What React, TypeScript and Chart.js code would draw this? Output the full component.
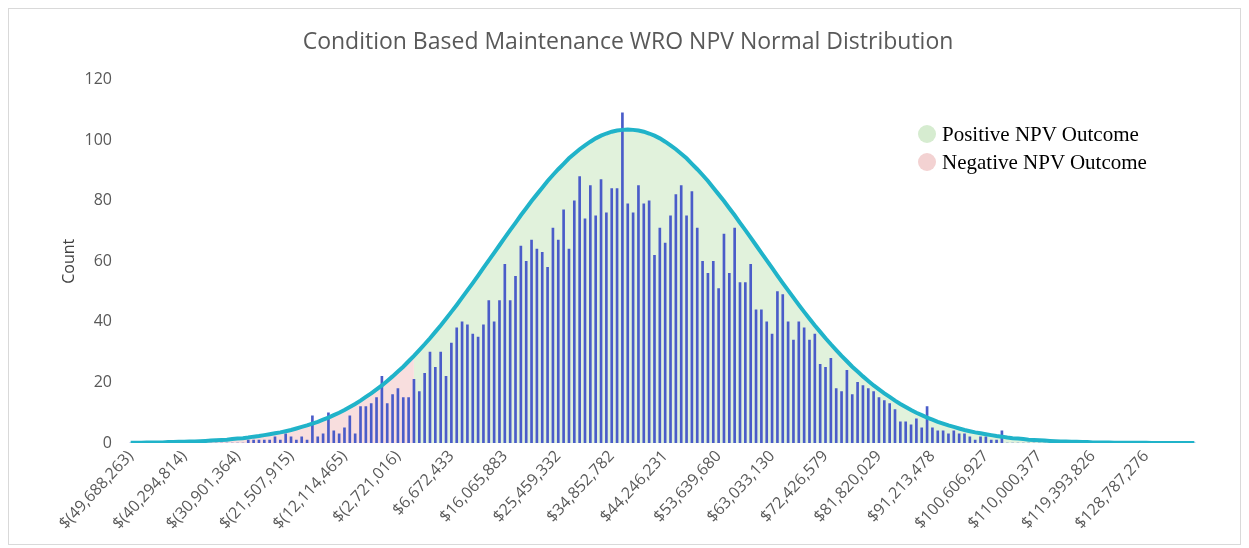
import React, { useEffect, useRef } from 'react';
import { Chart, registerables } from 'chart.js';

Chart.register(...registerables);

// Visible x-axis tick labels (one every 10 bins)
const tickLabels: string[] = [
  '$(49,688,263)', '$(40,294,814)', '$(30,901,364)', '$(21,507,915)', '$(12,114,465)',
  '$(2,721,016)', '$6,672,433', '$16,065,883', '$25,459,332', '$34,852,782',
  '$44,246,231', '$53,639,680', '$63,033,130', '$72,426,579', '$81,820,029',
  '$91,213,478', '$100,606,927', '$110,000,377', '$119,393,826', '$128,787,276',
];
const labelEvery = 10;
const firstPositiveBin = 53;

// Histogram counts per bin (200 bins)
const counts: number[] = [
  0, 0, 0, 0, 0, 0, 0, 0, 0, 0, 0, 0, 0, 0, 0, 0, 0, 0, 0, 0, 0, 0,
  1, 1, 1, 1, 1, 2, 1, 3, 2, 1, 2, 1,
  9, 2, 3, 10, 4, 3, 5, 9, 3, 12, 12, 13,
  15, 22, 13, 16, 18, 15, 15, 21, 17, 23, 30, 25, 30, 22,
  33, 38, 40, 39, 36, 35, 39, 47, 40, 47, 59, 47, 55, 65, 60, 67, 64, 63, 58, 71,
  67, 77, 64, 80, 88, 74, 85, 75, 87, 76, 84, 84, 109, 79, 76, 85, 79, 80, 62, 71,
  66, 75, 82, 85, 75, 83, 71, 60, 56, 60, 51, 69, 56, 71, 53, 53, 59, 44, 44, 40,
  36, 50, 49, 40, 34, 40, 38, 34, 36, 26, 25, 28, 18, 17, 24, 16, 20, 19, 18, 17,
  15, 14, 13, 11, 7, 7, 6, 8, 5, 12, 5, 4, 4, 3, 4, 3, 3, 2, 1, 2, 2, 1, 1, 4,
  0, 0, 0, 0, 0, 0, 0, 0, 0, 0, 0, 0, 0, 0, 0, 0, 0, 0, 0, 0, 0, 0, 0, 0, 0, 0, 0, 0, 0, 0, 0, 0, 0, 0, 0, 0,
];

// Fitted normal curve value per bin
const normalCurve: number[] = [
  0.1, 0.1, 0.1, 0.2, 0.2, 0.2, 0.2, 0.3, 0.3, 0.4,
  0.4, 0.5, 0.5, 0.6, 0.7, 0.8, 0.9, 1.0, 1.1, 1.3,
  1.5, 1.6, 1.8, 2.1, 2.3, 2.6, 2.9, 3.2, 3.5, 3.9,
  4.3, 4.8, 5.3, 5.8, 6.4, 7.0, 7.7, 8.4, 9.2, 10.0,
  10.9, 11.9, 12.9, 14.0, 15.2, 16.4, 17.7, 19.0, 20.5, 22.0,
  23.6, 25.2, 27.0, 28.8, 30.7, 32.6, 34.6, 36.7, 38.8, 41.0,
  43.3, 45.6, 48.0, 50.4, 52.8, 55.3, 57.8, 60.3, 62.8, 65.3,
  67.8, 70.3, 72.7, 75.2, 77.5, 79.9, 82.1, 84.3, 86.5, 88.5,
  90.4, 92.2, 94.0, 95.5, 97.0, 98.3, 99.5, 100.6, 101.5, 102.2,
  102.8, 103.2, 103.4, 103.5, 103.4, 103.2, 102.8, 102.2, 101.5, 100.6,
  99.5, 98.3, 97.0, 95.5, 94.0, 92.2, 90.4, 88.5, 86.5, 84.3,
  82.1, 79.9, 77.5, 75.2, 72.7, 70.3, 67.8, 65.3, 62.8, 60.3,
  57.8, 55.3, 52.8, 50.4, 48.0, 45.6, 43.3, 41.0, 38.8, 36.7,
  34.6, 32.6, 30.7, 28.8, 27.0, 25.2, 23.6, 22.0, 20.5, 19.0,
  17.7, 16.4, 15.2, 14.0, 12.9, 11.9, 10.9, 10.0, 9.2, 8.4,
  7.7, 7.0, 6.4, 5.8, 5.3, 4.8, 4.3, 3.9, 3.5, 3.2,
  2.9, 2.6, 2.3, 2.1, 1.8, 1.6, 1.5, 1.3, 1.1, 1.0,
  0.9, 0.8, 0.7, 0.6, 0.5, 0.5, 0.4, 0.4, 0.3, 0.3,
  0.2, 0.2, 0.2, 0.2, 0.1, 0.1, 0.1, 0.1, 0.1, 0.1,
  0.1, 0, 0, 0, 0, 0, 0, 0, 0, 0,
];

const yTicks = { min: 0, max: 120, step: 20 };
const legendLabels = ['Positive NPV Outcome', 'Negative NPV Outcome'];
const legendColors = ['#d6ecd0', '#f3d2d2'];

const categories: string[] = counts.map((_, i) =>
  i % labelEvery === 0 && tickLabels[i / labelEvery] ? tickLabels[i / labelEvery] : ''
);

export default function App() {
  const ref = useRef<HTMLCanvasElement>(null);

  useEffect(() => {
    if (!ref.current) return;
    Chart.defaults.font.family = "'Open Sans', sans-serif";
    const positive = normalCurve.map((v, i) => (i >= firstPositiveBin ? v : null));
    const negative = normalCurve.map((v, i) => (i <= firstPositiveBin ? v : null));
    const chart = new Chart(ref.current, {
      type: 'bar',
      data: {
        labels: categories,
        datasets: [
          {
            type: 'line',
            label: 'Normal',
            data: normalCurve,
            borderColor: '#20b3c9',
            borderWidth: 4,
            pointRadius: 0,
            fill: false,
            tension: 0,
            order: 0,
          } as any,
          {
            type: 'bar',
            label: 'Count',
            data: counts,
            backgroundColor: '#4a5cc9',
            borderWidth: 0,
            barThickness: 2,
            order: 1,
          },
          {
            type: 'line',
            label: legendLabels[0],
            data: positive,
            borderWidth: 0,
            pointRadius: 0,
            backgroundColor: 'rgba(205, 234, 196, 0.6)',
            fill: 'origin',
            order: 2,
          } as any,
          {
            type: 'line',
            label: legendLabels[1],
            data: negative,
            borderWidth: 0,
            pointRadius: 0,
            backgroundColor: 'rgba(243, 200, 200, 0.6)',
            fill: 'origin',
            order: 2,
          } as any,
        ],
      },
      options: {
        responsive: false,
        animation: false,
        devicePixelRatio: 1,
        layout: { padding: { left: 50, right: 43, top: 0, bottom: 0 } },
        plugins: {
          legend: { display: false },
          tooltip: { enabled: false },
          title: {
            display: true,
            text: 'Condition Based Maintenance WRO NPV Normal Distribution',
            color: '#595959',
            font: { size: 23, weight: 'normal', family: "'Open Sans', sans-serif" },
            padding: { top: 20, bottom: 23 },
          },
        },
        scales: {
          x: {
            grid: { display: false, drawTicks: false },
            border: { display: false },
            ticks: {
              autoSkip: false,
              minRotation: 47,
              maxRotation: 47,
              color: '#595959',
              font: { size: 16 },
              padding: 4,
            },
            afterFit: (s: any) => {
              s.height = 101;
            },
          },
          y: {
            min: yTicks.min,
            max: yTicks.max,
            grid: { display: false, drawTicks: false },
            border: { display: false },
            ticks: {
              stepSize: yTicks.step,
              color: '#595959',
              font: { size: 16 },
              padding: 16,
            },
            title: {
              display: true,
              text: 'Count',
              color: '#404040',
              font: { size: 16 },
              padding: { top: 1, bottom: 0 },
            },
            afterFit: (s: any) => {
              s.width = 69;
            },
          },
        },
      },
    });
    return () => chart.destroy();
  }, []);

  return (
    <div
      style={{
        position: 'relative',
        width: 1233,
        height: 537,
        border: '1px solid #d9d9d9',
        boxSizing: 'border-box',
        background: '#fff',
      }}
    >
      <canvas ref={ref} width={1231} height={535} style={{ display: 'block' }} />
      <div style={{ position: 'absolute', left: 909, top: 111 }}>
        {legendLabels.map((t, i) => (
          <div key={t} style={{ display: 'flex', alignItems: 'center', height: 28 }}>
            <span
              style={{
                display: 'inline-block',
                width: 18,
                height: 18,
                borderRadius: 9,
                background: legendColors[i],
                marginRight: 6,
              }}
            />
            <span
              style={{
                fontFamily: "'Liberation Serif', 'Times New Roman', serif",
                fontSize: 21,
                color: '#000',
                whiteSpace: 'nowrap',
              }}
            >
              {t}
            </span>
          </div>
        ))}
      </div>
    </div>
  );
}
